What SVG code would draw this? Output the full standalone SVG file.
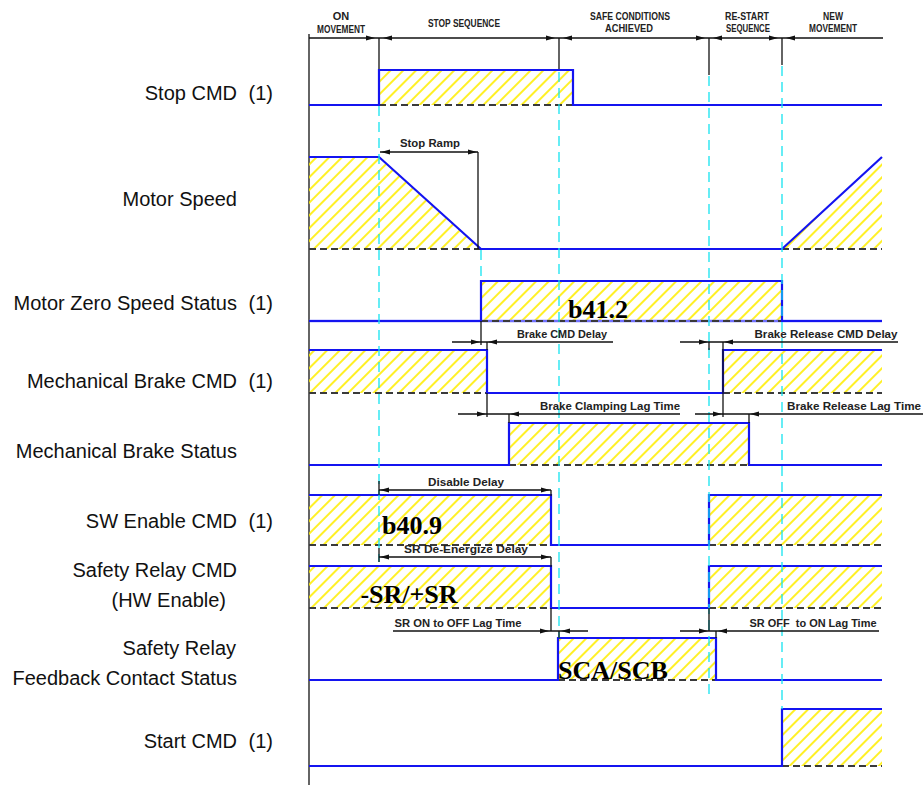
<svg xmlns="http://www.w3.org/2000/svg" width="923" height="785" viewBox="0 0 923 785">
<defs>
<pattern id="h" patternUnits="userSpaceOnUse" width="9" height="9" patternTransform="rotate(45)">
<line x1="2" y1="0" x2="2" y2="9" stroke="#ffee00" stroke-width="1.7"/>
</pattern>
<path id="ar" d="M0 0 L-9 -2.6 L-9 2.6 Z" fill="#111"/>
<style>
.lbl{font-family:"Liberation Sans",Arial,sans-serif;font-size:20px;fill:#111;text-anchor:end}
.hdr{font-family:"Liberation Sans",Arial,sans-serif;font-size:11px;font-weight:bold;fill:#222}
.dt{font-family:"Liberation Sans",Arial,sans-serif;font-size:11px;font-weight:bold;fill:#222;white-space:pre}
.big{font-family:"Liberation Serif","Times New Roman",serif;font-size:26px;font-weight:bold;fill:#000}
.sig{fill:none;stroke:#1414f0;stroke-width:2.2}
.hat{fill:url(#h);stroke:none}
.dsh{stroke:#3a3a3a;stroke-width:2;stroke-dasharray:7 4;fill:none}
.cy{stroke:#14e4f0;stroke-width:1.3;stroke-dasharray:10 6;fill:none}
.k{stroke:#111;stroke-width:1.3;fill:none}
</style>
</defs>
<rect width="923" height="785" fill="#fff"/>

<g id="axis">
<line x1="309" y1="34" x2="309" y2="785" class="k" stroke-width="1.6"/>
</g>

<g id="header">
<line x1="309" y1="38" x2="883" y2="38" class="k" stroke-width="1.6"/>
<text class="hdr" x="341" y="20" text-anchor="middle">ON</text>
<text class="hdr" x="341" y="33" text-anchor="middle" textLength="48" lengthAdjust="spacingAndGlyphs">MOVEMENT</text>
<text class="hdr" x="464" y="27" text-anchor="middle" textLength="72" lengthAdjust="spacingAndGlyphs">STOP SEQUENCE</text>
<text class="hdr" x="630" y="20" text-anchor="middle" textLength="80" lengthAdjust="spacingAndGlyphs">SAFE CONDITIONS</text>
<text class="hdr" x="629" y="32" text-anchor="middle" textLength="48" lengthAdjust="spacingAndGlyphs">ACHIEVED</text>
<text class="hdr" x="747" y="20" text-anchor="middle" textLength="44" lengthAdjust="spacingAndGlyphs">RE-START</text>
<text class="hdr" x="748" y="32" text-anchor="middle" textLength="44" lengthAdjust="spacingAndGlyphs">SEQUENCE</text>
<text class="hdr" x="833" y="20" text-anchor="middle" textLength="20" lengthAdjust="spacingAndGlyphs">NEW</text>
<text class="hdr" x="833" y="32" text-anchor="middle" textLength="48" lengthAdjust="spacingAndGlyphs">MOVEMENT</text>
<line x1="379" y1="38" x2="379" y2="70" class="k"/>
<line x1="559" y1="38" x2="559" y2="70" class="k"/>
<line x1="709" y1="38" x2="709" y2="75" class="k"/>
<line x1="782" y1="38" x2="782" y2="65" class="k"/>
<use href="#ar" transform="translate(375,38)"/>
<use href="#ar" transform="translate(383,38) scale(-1,1)"/>
<use href="#ar" transform="translate(555,38)"/>
<use href="#ar" transform="translate(563,38) scale(-1,1)"/>
<use href="#ar" transform="translate(705,38)"/>
<use href="#ar" transform="translate(713,38) scale(-1,1)"/>
<use href="#ar" transform="translate(778,38)"/>
<use href="#ar" transform="translate(786,38) scale(-1,1)"/>
</g>

<g id="stop-cmd">
<text class="lbl" x="237" y="100">Stop CMD</text><text class="lbl" x="273" y="100">(1)</text>
<rect class="hat" x="379" y="70" width="194" height="35"/>
<line class="dsh" x1="379" y1="105" x2="573" y2="105"/>
<path class="sig" d="M309 105 H379 V70 H573 V105 H882"/>
</g>

<g id="motor-speed">
<text class="lbl" x="237" y="206">Motor Speed</text>
<polygon class="hat" points="309,157 379,157 481,249 309,249"/>
<polygon class="hat" points="782,249 882,157 882,249"/>
<line class="dsh" x1="309" y1="249" x2="481" y2="249"/>
<line class="dsh" x1="782" y1="249" x2="882" y2="249"/>
<path class="sig" d="M309 157 H379 L481 249 H782 L882 157"/>
</g>

<g id="motor-zero-speed">
<text class="lbl" x="237" y="310">Motor Zero Speed Status</text><text class="lbl" x="273" y="310">(1)</text>
<rect class="hat" x="481" y="281" width="301" height="40"/>
<line x1="309" y1="321" x2="882" y2="321" stroke="#7070ff" stroke-width="2.6"/>
<line class="dsh" x1="481" y1="321" x2="782" y2="321"/>
<path class="sig" d="M309 321 H481 V281 H782 V321 H882"/>
<text class="big" x="598" y="318" text-anchor="middle">b41.2</text>
</g>

<g id="mech-brake-cmd">
<text class="lbl" x="237" y="388">Mechanical Brake CMD</text><text class="lbl" x="273" y="388">(1)</text>
<rect class="hat" x="309" y="350" width="178" height="43"/>
<rect class="hat" x="723" y="350" width="159" height="43"/>
<line class="dsh" x1="309" y1="393" x2="487" y2="393"/>
<line class="dsh" x1="723" y1="393" x2="882" y2="393"/>
<path class="sig" d="M309 350 H487 V393 H723 V350 H882"/>
</g>

<g id="mech-brake-status">
<text class="lbl" x="237" y="458">Mechanical Brake Status</text>
<rect class="hat" x="509" y="423" width="240" height="42"/>
<line class="dsh" x1="509" y1="465" x2="749" y2="465"/>
<path class="sig" d="M309 465 H509 V423 H749 V465 H882"/>
</g>

<g id="sw-enable-cmd">
<text class="lbl" x="237" y="528">SW Enable CMD</text><text class="lbl" x="273" y="528">(1)</text>
<rect class="hat" x="309" y="495" width="242" height="50"/>
<rect class="hat" x="709" y="495" width="173" height="50"/>
<line class="dsh" x1="309" y1="545" x2="551" y2="545"/>
<line class="dsh" x1="709" y1="545" x2="882" y2="545"/>
<path class="sig" d="M309 495 H551 V545 H709 V495 H882"/>
<text class="big" x="412" y="534" text-anchor="middle">b40.9</text>
</g>

<g id="safety-relay-cmd">
<text class="lbl" x="237" y="577">Safety Relay CMD</text>
<text class="lbl" x="226" y="607">(HW Enable)</text>
<rect class="hat" x="309" y="566" width="242" height="42"/>
<rect class="hat" x="709" y="566" width="173" height="42"/>
<line class="dsh" x1="309" y1="608" x2="551" y2="608"/>
<line class="dsh" x1="709" y1="608" x2="882" y2="608"/>
<path class="sig" d="M309 566 H551 V608 H709 V566 H882"/>
<text class="big" x="409" y="603" text-anchor="middle">-SR/+SR</text>
</g>

<g id="safety-relay-feedback">
<text class="lbl" x="236" y="655">Safety Relay</text>
<text class="lbl" x="237" y="685">Feedback Contact Status</text>
<rect class="hat" x="558" y="638" width="158" height="42"/>
<line class="dsh" x1="558" y1="680" x2="716" y2="680"/>
<path class="sig" d="M309 680 H558 V638 H716 V680 H882"/>
<text class="big" x="613" y="679" text-anchor="middle">SCA/SCB</text>
</g>

<g id="start-cmd">
<text class="lbl" x="237" y="748">Start CMD</text><text class="lbl" x="273" y="748">(1)</text>
<rect class="hat" x="782" y="709" width="100" height="57"/>
<line class="dsh" x1="782" y1="766" x2="882" y2="766"/>
<path class="sig" d="M309 766 H782 V709 H882"/>
</g>

<g id="connectors">
<line class="cy" x1="379" y1="106" x2="379" y2="562"/>
<line class="cy" x1="559" y1="72" x2="559" y2="638"/>
<line class="cy" x1="709" y1="76" x2="709" y2="700"/>
<line class="cy" x1="782" y1="66" x2="782" y2="709"/>
<line class="cy" x1="481" y1="250" x2="481" y2="281"/>

<text class="dt" x="430" y="147" text-anchor="middle" textLength="60" lengthAdjust="spacingAndGlyphs">Stop Ramp</text>
<line class="k" x1="380" y1="152" x2="478" y2="152"/>
<line class="k" x1="478" y1="152" x2="478" y2="249"/>
<use href="#ar" transform="translate(381,152) scale(-1,1)"/>
<use href="#ar" transform="translate(477,152)"/>

<text class="dt" x="562" y="338" text-anchor="middle" textLength="90" lengthAdjust="spacingAndGlyphs">Brake CMD Delay</text>
<line class="k" x1="452" y1="342" x2="613" y2="342"/>
<line class="k" x1="481" y1="321" x2="481" y2="345"/>
<line class="k" x1="487" y1="342" x2="487" y2="350"/>
<use href="#ar" transform="translate(480,342)"/>
<use href="#ar" transform="translate(488,342) scale(-1,1)"/>

<text class="dt" x="826" y="338" text-anchor="middle" textLength="143" lengthAdjust="spacingAndGlyphs">Brake Release CMD Delay</text>
<line class="k" x1="680" y1="342" x2="898" y2="342"/>
<line class="k" x1="709" y1="342" x2="709" y2="350"/>
<line class="k" x1="723" y1="342" x2="723" y2="417"/>
<use href="#ar" transform="translate(708,342)"/>
<use href="#ar" transform="translate(724,342) scale(-1,1)"/>

<text class="dt" x="610" y="410" text-anchor="middle" textLength="140" lengthAdjust="spacingAndGlyphs">Brake Clamping Lag Time</text>
<line class="k" x1="458" y1="414" x2="680" y2="414"/>
<line class="k" x1="487" y1="393" x2="487" y2="417"/>
<line class="k" x1="509" y1="414" x2="509" y2="423"/>
<use href="#ar" transform="translate(486,414)"/>
<use href="#ar" transform="translate(510,414) scale(-1,1)"/>

<text class="dt" x="854" y="410" text-anchor="middle" textLength="134" lengthAdjust="spacingAndGlyphs">Brake Release Lag Time</text>
<line class="k" x1="695" y1="414" x2="923" y2="414"/>
<line class="k" x1="749" y1="414" x2="749" y2="423"/>
<use href="#ar" transform="translate(722,414)"/>
<use href="#ar" transform="translate(750,414) scale(-1,1)"/>

<text class="dt" x="466" y="486" text-anchor="middle" textLength="76" lengthAdjust="spacingAndGlyphs">Disable Delay</text>
<line class="k" x1="379" y1="481" x2="379" y2="495"/>
<line class="k" x1="379" y1="490" x2="551" y2="490"/>
<line class="k" x1="551" y1="490" x2="551" y2="496"/>
<use href="#ar" transform="translate(380,490) scale(-1,1)"/>
<use href="#ar" transform="translate(550,490)"/>

<text class="dt" x="466" y="553" text-anchor="middle" textLength="124" lengthAdjust="spacingAndGlyphs">SR De-Energize Delay</text>
<line class="k" x1="379" y1="548" x2="379" y2="562"/>
<line class="k" x1="379" y1="557" x2="551" y2="557"/>
<line class="k" x1="551" y1="557" x2="551" y2="567"/>
<use href="#ar" transform="translate(380,557) scale(-1,1)"/>
<use href="#ar" transform="translate(550,557)"/>

<text class="dt" x="458" y="627" text-anchor="middle" textLength="127" lengthAdjust="spacingAndGlyphs">SR ON to OFF Lag Time</text>
<line class="k" x1="393" y1="631" x2="588" y2="631"/>
<line class="k" x1="551" y1="608" x2="551" y2="631"/>
<line class="k" x1="559" y1="631" x2="559" y2="638"/>
<use href="#ar" transform="translate(549,631)"/>
<use href="#ar" transform="translate(561,631) scale(-1,1)"/>

<text class="dt" x="813" y="627" text-anchor="middle" textLength="127" lengthAdjust="spacingAndGlyphs">SR OFF  to ON Lag Time</text>
<line class="k" x1="680" y1="631" x2="879" y2="631"/>
<line class="k" x1="709" y1="608" x2="709" y2="631" stroke="#0a8a8a"/>
<line class="k" x1="716" y1="631" x2="716" y2="638"/>
<use href="#ar" transform="translate(708,631)"/>
<use href="#ar" transform="translate(718,631) scale(-1,1)"/>
</g>
</svg>
